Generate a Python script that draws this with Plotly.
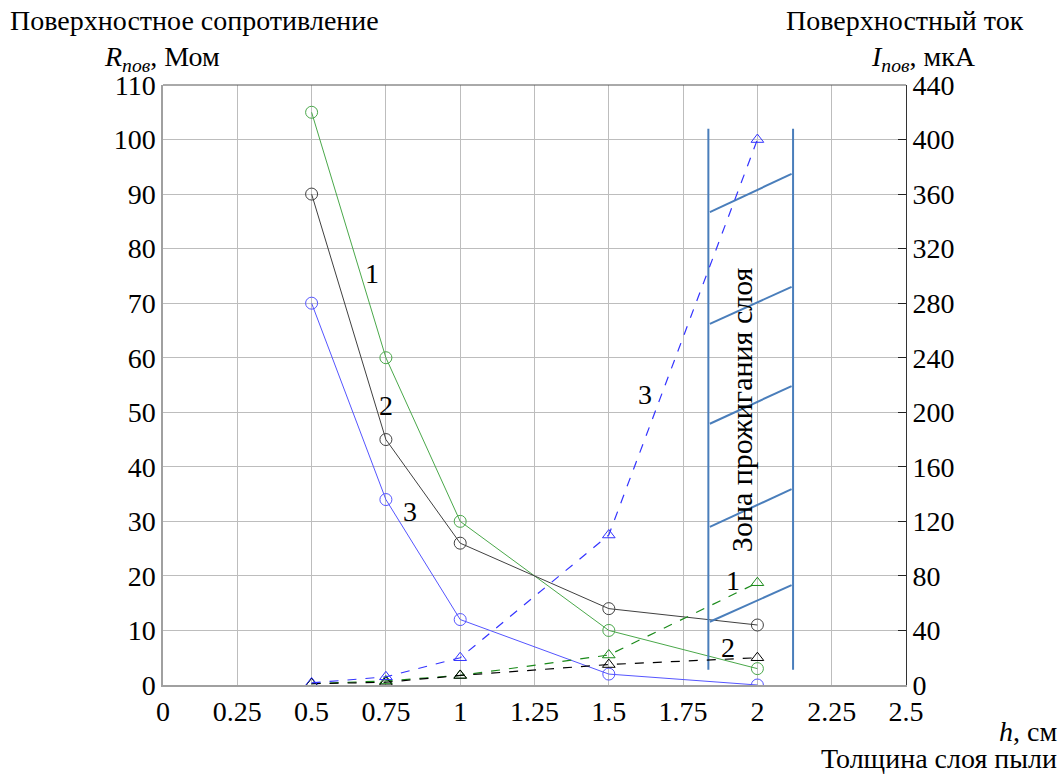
import plotly.graph_objects as go

# --- data ---
h = [0.5, 0.75, 1.0, 1.5, 2.0]
R1 = [105, 60, 30, 10, 3]
R2 = [90, 45, 26, 14, 11]
R3 = [70, 34, 12, 2, 0]
I1 = [1, 3, 7, 22, 75]
I2 = [1, 2, 7, 15, 20]
I3 = [1.5, 6, 20, 110, 400]

x_ticks = [0, 0.25, 0.5, 0.75, 1, 1.25, 1.5, 1.75, 2, 2.25, 2.5]
yl_ticks = list(range(0, 111, 10))
yr_ticks = list(range(0, 441, 40))

# burning zone (in left-axis units)
zone_x = [1.835, 2.12]
zone_y = [2.8, 102]
hatch_x = [1.84, 2.115]
hatch_left = [11.6, 29.0, 47.9, 66.2, 86.7]
hatch_right = [18.3, 35.9, 54.8, 73.0, 93.7]

FONT = "Liberation Serif"
FS = 28
FT = 28

fig = go.Figure()

def rline(y, color, name):
    fig.add_trace(go.Scatter(x=h, y=y, mode="lines+markers", name=name,
                             line=dict(color=color, width=1),
                             marker=dict(symbol="circle-open", size=12, color=color, line=dict(width=1)),
                             yaxis="y"))

def iline(y, color, dash, name):
    fig.add_trace(go.Scatter(x=h, y=y, mode="lines+markers", name=name,
                             line=dict(color=color, width=1.2, dash=dash),
                             marker=dict(symbol="triangle-up-open", size=11, color=color, line=dict(width=1)),
                             yaxis="y2"))

rline(R1, "#4aa84a", "R1")
rline(R2, "#404040", "R2")
rline(R3, "#5555ff", "R3")
iline(I1, "#1a8a1a", "dash", "I1")
iline(I2, "#000000", "dash", "I2")
iline(I3, "#3333ff", "dash", "I3")

zc = "#4a7ebb"
for zx in zone_x:
    fig.add_trace(go.Scatter(x=[zx, zx], y=zone_y, mode="lines",
                             line=dict(color=zc, width=2), yaxis="y", hoverinfo="skip"))
for yl, yr in zip(hatch_left, hatch_right):
    fig.add_trace(go.Scatter(x=hatch_x, y=[yl, yr], mode="lines",
                             line=dict(color=zc, width=2), yaxis="y", hoverinfo="skip"))

anns = [
    (0.703, 75.5, "1"), (0.75, 51.3, "2"), (0.832, 31.9, "3"),
    (1.622, 53.3, "3"), (1.918, 19.1, "1"), (1.901, 6.8, "2"),
]
annotations = [dict(x=x, y=y, xref="x", yref="y", text=t, showarrow=False,
                    font=dict(family=FONT, size=FS, color="black")) for x, y, t in anns]

annotations.append(dict(x=1.945, y=50.4, xref="x", yref="y", text="Зона прожигания слоя",
                        textangle=-90, showarrow=False,
                        font=dict(family=FONT, size=30, color="black")))

W, H = 1063, 776
L, R, T, B = 163, 157, 85, 91

# titles placed in pixel positions, converted to paper coords
titles = [
    (8, 21, "Поверхностное сопротивление", "left"),
    (222, 58, "<i>R</i><sub><i>пов</i></sub>, Мом", "right"),
    (1026, 21, "Поверхностный ток", "right"),
    (978, 58, "<i>I</i><sub><i>пов</i></sub>, мкА", "right"),
    (1059, 731, "<i>h</i>, см", "right"),
    (1059, 758, "Толщина слоя пыли", "right"),
]
for px, py, t, anc in titles:
    annotations.append(dict(x=(px - L) / (W - L - R), y=1 - (py - T) / (H - T - B),
                            xref="paper", yref="paper", text=t, showarrow=False,
                            xanchor=anc, yanchor="middle",
                            font=dict(family=FONT, size=FT, color="black")))

fig.update_layout(
    width=W, height=H,
    margin=dict(l=L, r=R, t=T, b=B, pad=0),
    paper_bgcolor="white", plot_bgcolor="white",
    showlegend=False,
    font=dict(family=FONT, size=FS, color="black"),
    annotations=annotations,
    xaxis=dict(range=[0, 2.5], tickvals=x_ticks, ticktext=[f"{v:g}" for v in x_ticks],
               showgrid=True, gridcolor="#bdbdbd", gridwidth=1,
               showline=True, linecolor="#a0a0a0", linewidth=2, mirror=False,
               ticks="", zeroline=False, tickfont=dict(family=FONT, size=FS)),
    yaxis=dict(range=[0, 110], tickvals=yl_ticks, showgrid=True, gridcolor="#bdbdbd",
               gridwidth=1, showline=True, linecolor="#a0a0a0", linewidth=1.5,
               ticks="", zeroline=False, tickfont=dict(family=FONT, size=FS)),
    yaxis2=dict(range=[0, 440], tickvals=yr_ticks, overlaying="y", side="right",
                showgrid=False, showline=True, linecolor="#333333", linewidth=1,
                ticks="inside", ticklen=8, tickcolor="#222222", zeroline=False,
                tickfont=dict(family=FONT, size=FS)),
    shapes=[dict(type="line", xref="paper", yref="paper", x0=0, x1=1, y0=1, y1=1,
                 line=dict(color="#555555", width=1))],
)

fig.write_html("out.html", config={"displayModeBar": False},
               post_script="document.body.style.margin='0';document.body.style.overflow='hidden';")
